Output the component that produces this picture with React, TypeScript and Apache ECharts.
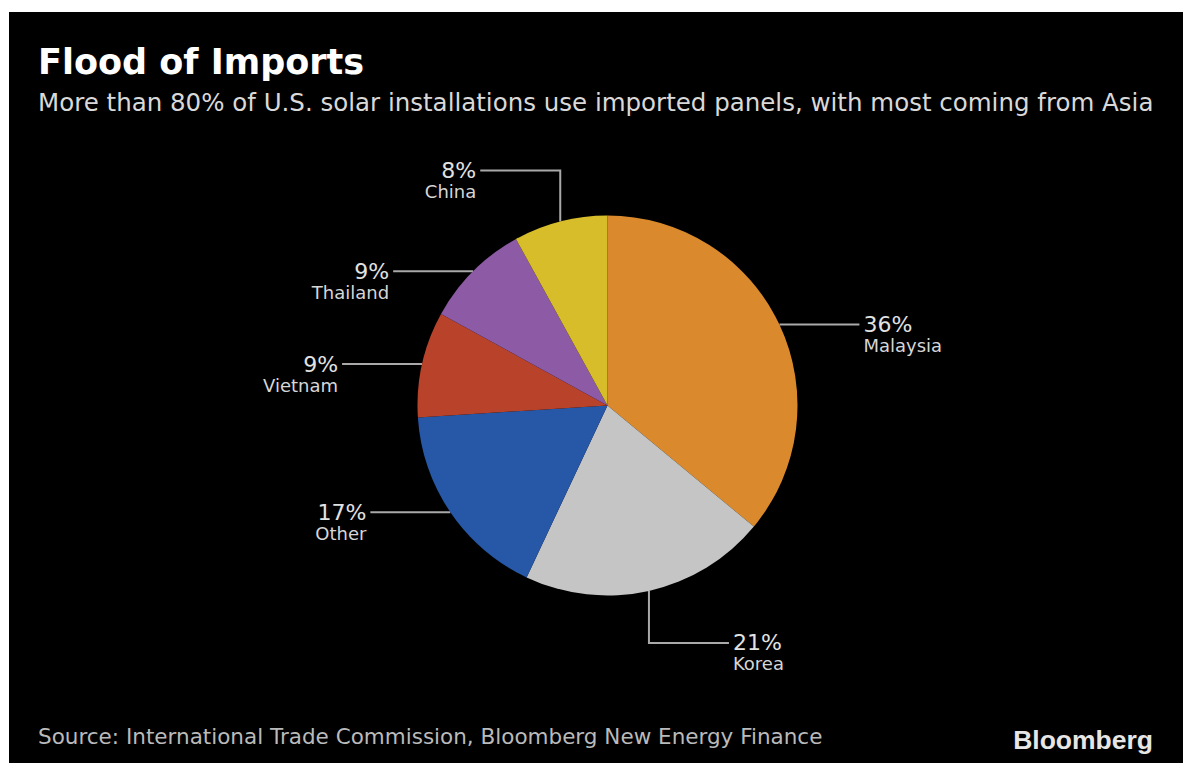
import React, { useEffect, useRef } from "react";
import * as echarts from "echarts";

const TITLE = "Flood of Imports";
const SUBTITLE =
  "More than 80% of U.S. solar installations use imported panels, with most coming from Asia";
const SOURCE = "Source: International Trade Commission, Bloomberg New Energy Finance";
const BRAND = "Bloomberg";

const categories = ["Malaysia", "Korea", "Other", "Vietnam", "Thailand", "China"];
const shares = [36, 21, 17, 9, 9, 8];
const sliceColors = ["#DA8A2C", "#C5C5C5", "#2757A7", "#B8432A", "#8D5AA6", "#D8BD2B"];
// labels whose guide line first goes vertical, then horizontal
const elbowLegs: Record<string, number> = { Korea: 52, China: -51 };

const W = 1174;
const H = 751;
const CX = 598.5;
const CY = 393.5;
const R = 190;
const FONT = "DejaVu Sans";

export default function App() {
  const ref = useRef<HTMLDivElement>(null);

  useEffect(() => {
    if (!ref.current) return;
    const chart = echarts.init(ref.current, undefined, { renderer: "svg" });
    const option: any = {
      animation: false,
      backgroundColor: "#000000",
      graphic: [
        {
          type: "text",
          left: 29,
          top: 32,
          style: {
            text: TITLE,
            fill: "#ffffff",
            font: `bold 35px "${FONT}"`,
          },
        },
        {
          type: "text",
          left: 29,
          top: 78,
          style: {
            text: SUBTITLE,
            fill: "#d9d9d9",
            font: `24.5px "${FONT}"`,
          },
        },
        {
          type: "text",
          left: 29,
          top: 713,
          style: {
            text: SOURCE,
            fill: "#bababa",
            font: `21.5px "${FONT}"`,
          },
        },
        {
          type: "text",
          right: 30,
          top: 714,
          style: {
            text: BRAND,
            fill: "#e6e6e6",
            font: `bold 26.5px "Liberation Sans"`,
          },
        },
      ],
      series: [
        {
          type: "pie",
          center: [CX, CY],
          radius: R,
          startAngle: 90,
          clockwise: true,
          avoidLabelOverlap: false,
          itemStyle: { borderWidth: 0 },
          emphasis: { disabled: true },
          data: categories.map((name, i) => ({
            name,
            value: shares[i],
            itemStyle: { color: sliceColors[i] },
          })),
          label: {
            show: true,
            position: "outside",
            formatter: (p: any) => `{a|${p.value}%}\n{b|${p.name}}`,
            rich: {
              a: { fontFamily: FONT, fontSize: 22, lineHeight: 24, color: "#e2e2e2" },
              b: { fontFamily: FONT, fontSize: 18, lineHeight: 18, color: "#d6d6d6" },
            },
          },
          labelLine: {
            show: true,
            length: 10,
            length2: 10,
            lineStyle: { color: "#a9a9a9", width: 2 },
          },
          labelLayout: (params: any) => {
            const pts = params.labelLinePoints;
            if (!pts || !pts[0]) return {};
            const sx = pts[0][0];
            const sy = pts[0][1];
            const name = categories[params.dataIndex];
            const isRight = sx > CX;
            const leg = elbowLegs[name] || 0;
            const mx = sx;
            const my = sy + leg;
            const ex = isRight ? mx + 80 : mx - 80;
            const ey = my;
            return {
              x: isRight ? ex + 4 : ex - 4,
              y: ey - 12,
              align: isRight ? "left" : "right",
              verticalAlign: "top",
              labelLinePoints: [
                [sx, sy],
                [mx, my],
                [ex, ey],
              ],
            };
          },
        },
      ],
    };
    chart.setOption(option);
    return () => chart.dispose();
  }, []);

  return (
    <div
      ref={ref}
      style={{
        position: "fixed",
        left: 9,
        top: 12,
        width: W,
        height: H,
        background: "#000",
      }}
    />
  );
}
